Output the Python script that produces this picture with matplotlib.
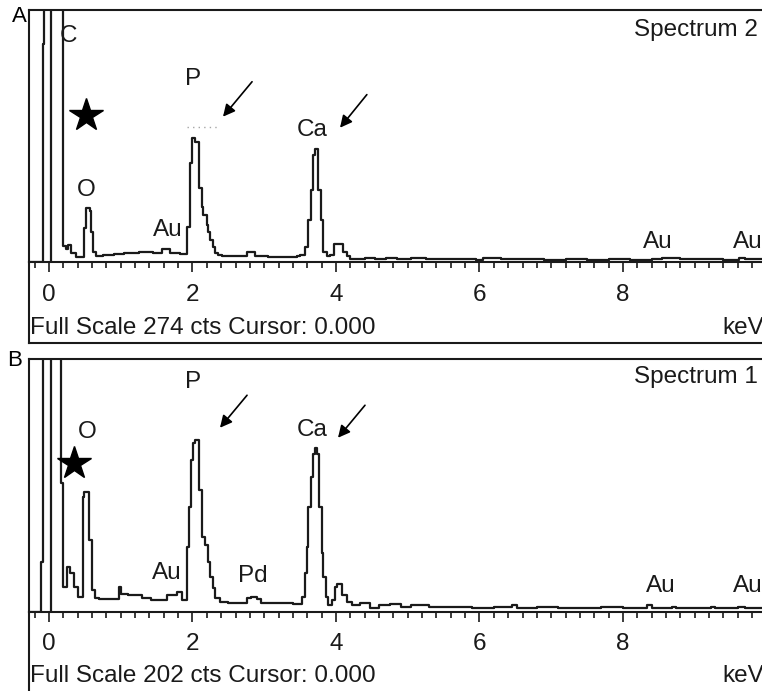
import matplotlib.pyplot as plt
from matplotlib.ticker import MultipleLocator
from matplotlib.lines import Line2D

plt.rcParams['font.family'] = ['Liberation Sans', 'DejaVu Sans']

# EDS spectra: channel start (keV) and counts (step, 'post')
energy_a = [-0.30, -0.09, -0.065, 0.20, 0.24, 0.27, 0.31, 0.37, 0.49, 0.51, 0.57, 0.58, 0.62, 0.66,
            0.75, 0.90, 1.05, 1.25, 1.45, 1.58, 1.68, 1.82, 1.92, 1.965, 1.99, 2.035, 2.095, 2.13,
            2.145, 2.20, 2.22, 2.245, 2.28, 2.31, 2.355, 2.41, 2.60, 2.76, 2.87, 3.05, 3.22, 3.46,
            3.50, 3.57, 3.61, 3.65, 3.675, 3.705, 3.755, 3.785, 3.82, 3.87, 3.92, 3.975, 4.10, 4.15,
            4.20, 4.40, 4.55, 4.70, 4.85, 5.05, 5.25, 5.45, 5.70, 5.95, 6.05, 6.30, 6.60, 6.90, 7.20,
            7.50, 7.80, 8.10, 8.40, 8.55, 8.80, 9.10, 9.40, 9.62, 9.70, 10.2]
counts_a = [0, 237, 2000, 17, 14, 18, 10, 5, 37, 59, 55, 33, 11, 6,
            8, 9, 10, 11, 10, 14, 10, 9, 38, 108, 135, 130, 80, 60,
            51, 40, 33, 24, 16, 10, 8, 6, 6, 11, 6, 5, 5, 6,
            8, 16, 46, 78, 116, 123, 78, 46, 11, 6, 8, 20, 11, 6,
            3, 4, 3, 4, 3, 4, 3, 3, 3, 2, 4, 3, 3, 2, 3,
            2, 3, 2, 3, 4, 3, 3, 2, 4, 3, 3]

energy_b = [-0.30, -0.11, -0.08, 0.167, 0.19, 0.245, 0.29, 0.35, 0.41, 0.47, 0.49, 0.56, 0.60, 0.64,
            0.70, 0.97, 1.01, 1.10, 1.30, 1.42, 1.64, 1.78, 1.85, 1.92, 1.95, 1.975, 2.01, 2.035,
            2.095, 2.13, 2.17, 2.22, 2.25, 2.28, 2.31, 2.38, 2.50, 2.76, 2.82, 2.90, 2.95, 3.20,
            3.40, 3.52, 3.57, 3.59, 3.615, 3.645, 3.675, 3.71, 3.74, 3.77, 3.80, 3.82, 3.86, 3.895,
            3.94, 3.985, 4.01, 4.09, 4.15, 4.22, 4.33, 4.47, 4.60, 4.75, 4.90, 5.05, 5.30, 5.60,
            5.90, 6.20, 6.45, 6.52, 6.80, 7.10, 7.40, 7.70, 8.00, 8.33, 8.40, 8.68, 8.74, 9.00,
            9.22, 9.28, 9.60, 9.70, 10.2]
counts_b = [0, 40, 2000, 103, 20, 36, 31, 20, 12, 92, 96, 57, 17, 11,
            10, 20, 14, 13, 11, 9, 13, 16, 9, 52, 84, 121, 135, 137,
            97, 60, 53, 40, 28, 19, 11, 8, 7, 11, 12, 10, 7, 7,
            6, 12, 31, 52, 84, 108, 126, 131, 126, 84, 47, 28, 12, 5,
            9, 20, 22, 13, 8, 5, 7, 3, 5, 6, 4, 5, 4, 4,
            3, 4, 5, 3, 4, 3, 3, 4, 3, 5, 3, 4, 3, 3,
            4, 3, 4, 3, 3]

full_scale = [274, 202]
panel_letters = ["A", "B"]
spectrum_names = ["Spectrum 2", "Spectrum 1"]

# peak labels (text, keV, counts)
labels_a = [("C", 0.265, 246), ("O", 0.516, 78), ("P", 2.007, 199), ("Au", 1.66, 35),
            ("Ca", 3.665, 143), ("Au", 8.49, 22), ("Au", 9.74, 22)]
labels_b = [("O", 0.53, 144), ("P", 2.007, 184), ("Au", 1.645, 31), ("Pd", 2.843, 28),
            ("Ca", 3.665, 145), ("Au", 8.53, 20), ("Au", 9.74, 20)]
star_pos = [(0.516, 160), (0.348, 119)]
arrows_a = [((2.83, 196), (2.425, 158)), ((4.43, 182), (4.056, 146))]
arrows_b = [((2.76, 173), (2.383, 147)), ((4.404, 165), (4.028, 139))]
name_y = [252, 188]

W, H = 762, 691
fig = plt.figure(figsize=(W / 100, H / 100), dpi=100)

# pixel layout of the two panels: (top, baseline, box bottom)
panels = [(10, 262, 343), (359, 611.5, 700)]
left_px, right_px = 29, 766
x0_px, px_per_kev = 49, 71.75
xmin = (left_px - x0_px) / px_per_kev
xmax = (right_px - x0_px) / px_per_kev

data = [(energy_a, counts_a, labels_a, arrows_a), (energy_b, counts_b, labels_b, arrows_b)]
line_col = "#1a1a1a"
fs = 17.5

for i, (top, base, boxbot) in enumerate(panels):
    energy, counts, labels, arrows = data[i]
    ax = fig.add_axes([left_px / W, 1 - base / H, (right_px - left_px) / W, (base - top) / H])
    ax.step(energy, counts, where="post", color=line_col, lw=1.6)
    ax.axvline(0.025, color=line_col, lw=1.6)
    ax.set_xlim(xmin, xmax)
    ax.set_ylim(0, full_scale[i])
    ax.set_yticks([])
    ax.xaxis.set_major_locator(MultipleLocator(2))
    ax.xaxis.set_minor_locator(MultipleLocator(0.2))
    ax.tick_params(axis="x", which="major", direction="out", length=7.5, width=1.2,
                   labelsize=fs, pad=8, colors=line_col)
    ax.tick_params(axis="x", which="minor", direction="out", length=4.5, width=1.2, colors=line_col)
    for s in ax.spines.values():
        s.set_color(line_col)
        s.set_linewidth(1.5)

    for txt, e, c in labels:
        ax.text(e, c, txt, ha="center", va="center", fontsize=fs, color=line_col)
    ax.plot(*star_pos[i], marker="*", ms=25, color="black", clip_on=False)
    for tail, head in arrows:
        ax.annotate("", xy=head, xytext=tail,
                    arrowprops=dict(arrowstyle="-|>", color="black", lw=1.2,
                                    mutation_scale=18, shrinkA=0, shrinkB=0))
    ax.text(9.88, name_y[i], spectrum_names[i], ha="right", va="center", fontsize=fs, color=line_col)

    text_y = -(66 if i == 0 else 65) / (base - top)
    ax.text(0.002, text_y, "Full Scale %d cts Cursor: 0.000" % full_scale[i], transform=ax.transAxes,
            ha="left", va="center", fontsize=fs, color=line_col)
    ax.text((722 - left_px) / (right_px - left_px), text_y, "keV", transform=ax.transAxes,
            ha="left", va="center", fontsize=fs, color=line_col)

    # outer box below the spectrum
    fig.add_artist(Line2D([left_px / W, left_px / W], [1 - base / H, 1 - boxbot / H],
                          color=line_col, lw=1.5))
    fig.add_artist(Line2D([left_px / W, 1.0], [1 - boxbot / H, 1 - boxbot / H],
                          color=line_col, lw=1.5))

# faint cursor dots near the P peak in panel A
fig.axes[0].plot([1.92, 2.34], [147, 147], ls=(0, (1, 3)), color="0.65", lw=1)

fig.text(19 / W, 1 - 17 / H, panel_letters[0], ha="center", va="center", fontsize=16)
fig.text(15 / W, 1 - 360 / H, panel_letters[1], ha="center", va="center", fontsize=16)

fig.savefig("out.png", dpi=100)
